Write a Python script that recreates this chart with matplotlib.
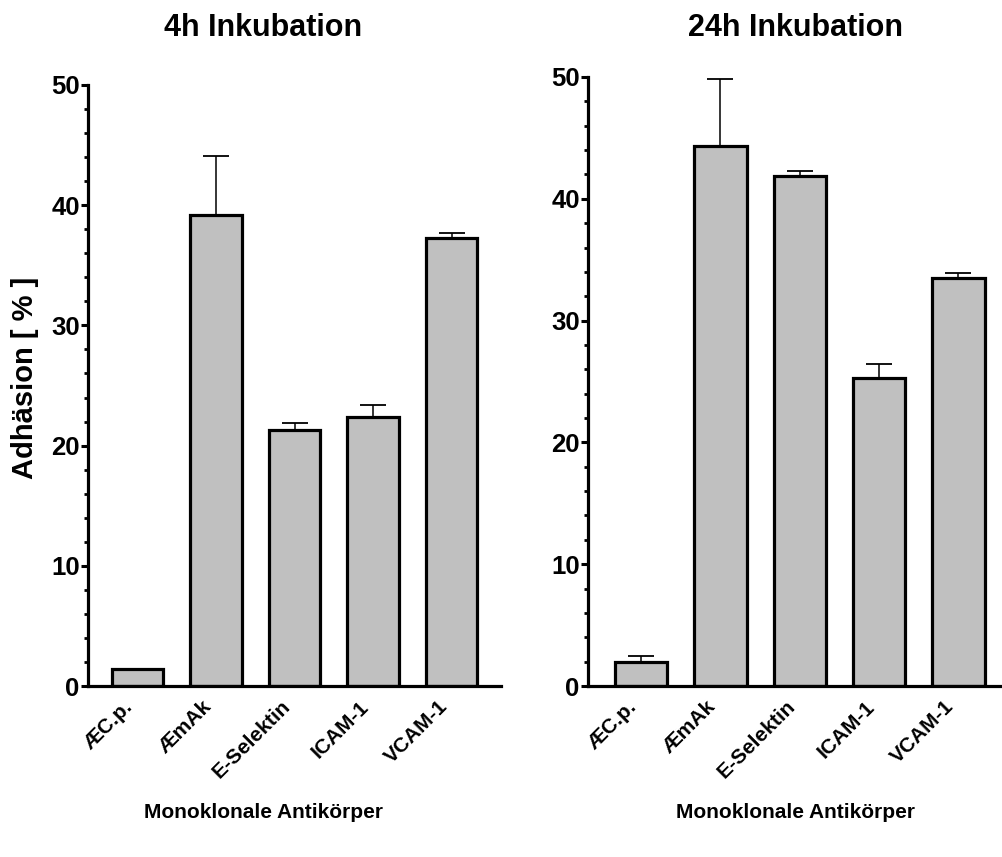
import matplotlib
matplotlib.use("Agg")
import matplotlib.pyplot as plt
from matplotlib.ticker import MultipleLocator
from matplotlib.transforms import ScaledTranslation

categories = ["ÆC.p.", "ÆmAk", "E-Selektin", "ICAM-1", "VCAM-1"]
values_4h = [1.4, 39.2, 21.3, 22.4, 37.3]
errors_4h = [0.05, 4.9, 0.6, 1.0, 0.4]
values_24h = [2.0, 44.3, 41.9, 25.3, 33.5]
errors_24h = [0.5, 5.5, 0.4, 1.1, 0.4]
titles = ["4h Inkubation", "24h Inkubation"]
xlabel = "Monoklonale Antikörper"
ylabel = "Adhäsion [ % ]"

plt.rcParams['font.family'] = ['Liberation Sans', 'DejaVu Sans']

fig = plt.figure(figsize=(10.02, 8.57), dpi=100)
W, H = 1002, 857
axL = fig.add_axes([88 / W, 1 - 686 / H, 413 / W, (686 - 85) / H])
axR = fig.add_axes([588 / W, 1 - 686 / H, 414 / W, (686 - 77) / H])

specs = [(axL, values_4h, errors_4h, (-0.63, 4.63), 263),
         (axR, values_24h, errors_24h, (-0.67, 4.55), 795)]

shift = ScaledTranslation(-14 / 100, 0, fig.dpi_scale_trans)

for i, (ax, vals, errs, xl, cx) in enumerate(specs):
    x = list(range(len(categories)))
    ax.bar(x, vals, width=0.66, color="#C0C0C0", edgecolor="black", linewidth=2.3, zorder=2)
    ax.errorbar(x, vals, yerr=[[0] * len(errs), errs], fmt="none", ecolor="black",
                elinewidth=1.1, capsize=9.5, capthick=1.3, zorder=1)
    ax.set_xlim(*xl)
    ax.set_ylim(0, 50)
    ax.yaxis.set_major_locator(MultipleLocator(10))
    ax.yaxis.set_minor_locator(MultipleLocator(2))
    for s in ["top", "right"]:
        ax.spines[s].set_visible(False)
    for s in ["left", "bottom"]:
        ax.spines[s].set_linewidth(2.3)
    ax.tick_params(axis="y", which="major", length=5, width=2.2, direction="out", pad=1,
                   labelsize=18.5)
    ax.tick_params(axis="y", which="minor", length=3, width=2.0, direction="out")
    ax.tick_params(axis="x", length=0, pad=8)
    for lab in ax.get_yticklabels():
        lab.set_fontweight("bold")
    ax.set_xticks(x)
    ax.set_xticklabels(categories, rotation=45, ha="right", va="top",
                       rotation_mode="anchor", fontsize=15, fontweight="bold")
    for lab in ax.get_xticklabels():
        lab.set_transform(lab.get_transform() + shift)
    fig.text(cx / W, 1 - 28 / H, titles[i], ha="center", va="center",
             fontsize=22, fontweight="bold")
    fig.text(cx / W, 1 - 812 / H, xlabel, ha="center", va="center",
             fontsize=15, fontweight="bold")

fig.text(25 / W, 1 - 378 / H, ylabel, ha="center", va="center", rotation=90,
         fontsize=21, fontweight="bold")

fig.savefig("out.png", dpi=100)
